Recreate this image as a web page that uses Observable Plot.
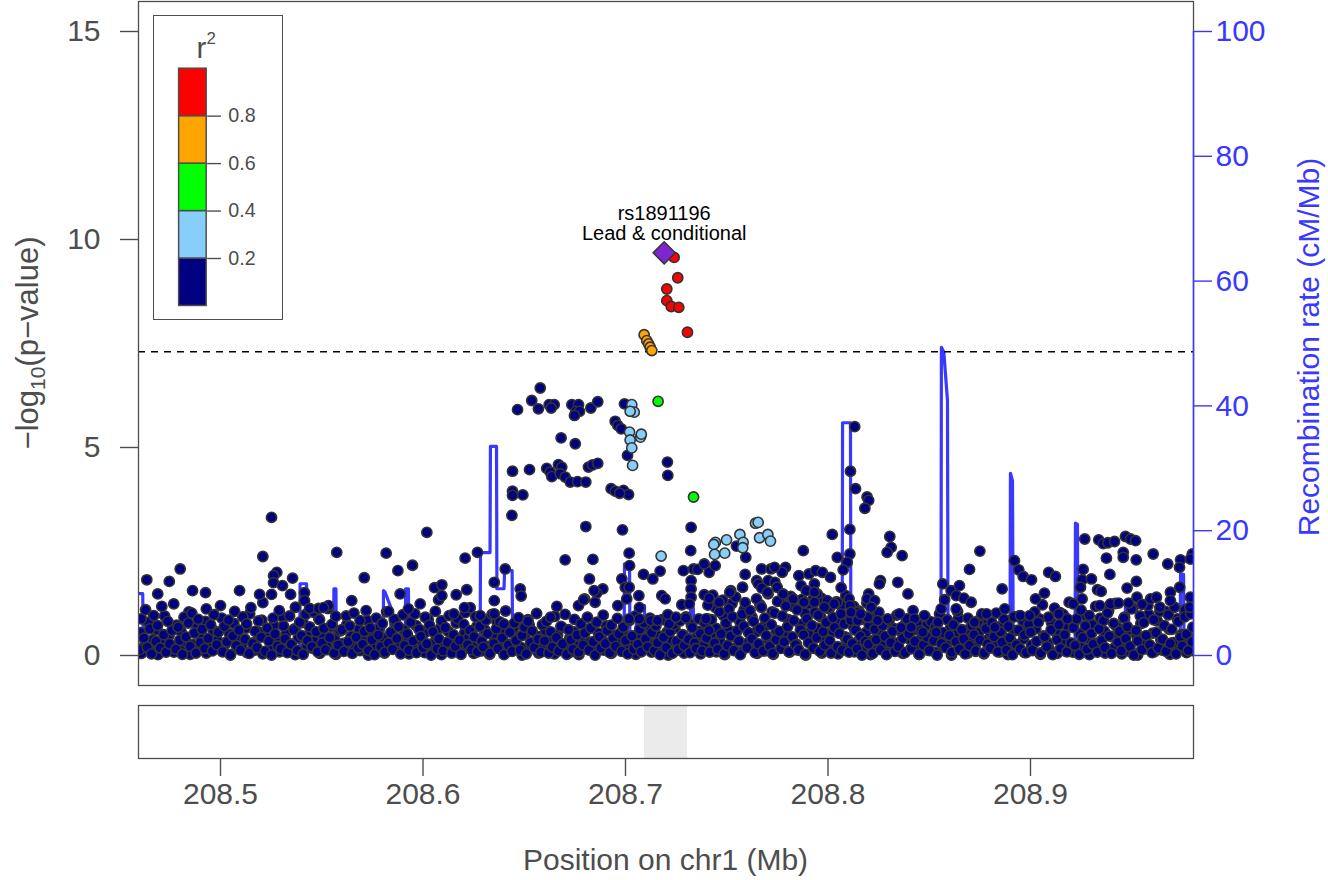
<!DOCTYPE html>
<html><head><meta charset="utf-8">
<script src="https://cdn.jsdelivr.net/npm/d3@7"></script>
<script src="https://cdn.jsdelivr.net/npm/@observablehq/plot@0.6"></script>
<style>
body{margin:0;background:#fff;font-family:"Liberation Sans",Arial,sans-serif;}
#wrap{position:relative;width:1328px;height:880px;overflow:hidden;}
#main{position:absolute;left:0;top:0;}
#genes{position:absolute;left:0;top:700px;}
#legend{position:absolute;left:153px;top:15px;}
#legend svg{border:1.5px solid #4d4d4d;box-sizing:border-box;background:#fff;}
</style></head><body>
<div id="wrap"><div id="main"></div><div id="genes"></div><div id="legend"></div></div>
<script>
// ---------- DATA ----------
const xDomain = [208.4595, 208.9805];          // Mb
const xTicks = [208.5, 208.6, 208.7, 208.8, 208.9];
const yTicks = [0, 5, 10, 15];
const recombTicks = [0, 20, 40, 60, 80, 100];
const sigLine = [7.3];                          // -log10(5e-8)
const chromosome = "chr1";

// lead SNP
const leadSnp = [[208.7191, 9.68]];
const leadName = "rs1891196";
const leadNote = "Lead & conditional";

// r2 > 0.8
const snpsRed = [208.7240,9.57, 208.7258,9.08, 208.7204,8.81, 208.7204,8.53, 208.7226,8.39, 208.7263,8.37, 208.7306,7.77];
// 0.6 - 0.8
const snpsOrange = [208.7092,7.71, 208.7105,7.57, 208.7114,7.49, 208.7122,7.41, 208.7130,7.33];
// 0.4 - 0.6
const snpsGreen = [208.7161,6.11, 208.7336,3.81];
// 0.2 - 0.4
const snpsLightBlue = [208.7031,6.03, 208.7043,5.85, 208.7023,5.87, 208.7020,5.37, 208.7074,5.25, 208.7078,5.32, 208.7023,5.18, 208.7031,4.99, 208.7035,4.57, 208.7176,2.39,
 208.7642,3.18, 208.7655,3.20, 208.7444,2.72, 208.7436,2.67, 208.7499,2.78, 208.7565,2.91, 208.7581,2.72, 208.7579,2.59, 208.7662,2.83, 208.7703,2.91, 208.7716,2.75, 208.7440,2.43, 208.7490,2.46];

// r2 < 0.2 : distinct points above the dense band
const scatterMid = [208.6579,6.43, 208.6537,6.13, 208.6467,5.91, 208.6570,5.93, 208.6623,6.03, 208.6648,6.03, 208.6633,5.95, 208.6735,6.03, 208.6768,6.03, 208.6755,5.87, 208.6773,5.87, 208.6748,5.77, 208.6829,5.95, 208.6863,6.10, 208.6995,6.05, 208.6949,5.63, 208.6962,5.53, 208.6979,5.45, 208.6682,5.23, 208.6752,5.09, 208.7010,4.81, 208.6442,4.43, 208.6526,4.47, 208.6611,4.50, 208.6628,4.41, 208.6636,4.30, 208.6669,4.59, 208.6685,4.53, 208.6678,4.37, 208.6702,4.29, 208.6727,4.17, 208.6763,4.18, 208.6804,4.17, 208.6817,4.53, 208.6837,4.58, 208.6863,4.62, 208.6929,4.01, 208.6949,3.95, 208.6990,3.97, 208.7015,3.87, 208.6971,3.90, 208.7207,4.65, 208.7209,4.33, 208.6442,3.95, 208.6442,3.85, 208.6493,3.86, 208.6439,3.37, 208.6804,3.10, 208.6985,3.02, 208.7324,3.08, 208.7322,2.52, 208.6702,2.30, 208.6839,2.31, 208.7018,2.46, 208.7020,2.16, 208.6406,2.08, 208.7089,1.95, 208.7135,1.84, 208.7171,2.03, 208.7286,2.04, 208.7336,2.08, 208.6822,1.84, 208.6982,1.84, 208.6480,1.60, 208.6485,1.43, 208.6888,1.60, 208.6858,1.50, 208.6850,1.28, 208.7006,1.36, 208.6999,1.64, 208.7066,1.44, 208.7179,1.44, 208.7196,1.36, 208.7324,1.80, 208.7324,1.60, 208.7324,1.40, 208.6798,1.36, 208.6768,1.20, 208.6661,1.18, 208.6962,1.20, 208.7069,1.15, 208.7278,1.22];
const scatterLeft = [208.4636,1.82, 208.4747,1.78, 208.4801,2.08, 208.4690,1.48, 208.4862,1.56, 208.4926,1.51, 208.5094,1.56, 208.5193,1.47, 208.5252,1.47, 208.5209,2.38, 208.5252,3.32, 208.5278,2.00, 208.5262,1.92, 208.5262,1.75, 208.5306,1.68, 208.5356,1.86, 208.5346,1.47, 208.5415,1.51, 208.5415,1.32, 208.5440,1.13, 208.5533,1.20, 208.5484,1.13, 208.5574,2.48, 208.5818,2.46, 208.6019,2.96, 208.5710,1.87, 208.5876,2.04, 208.5948,2.17, 208.6208,2.34, 208.6269,2.48, 208.5887,1.48, 208.6057,1.63, 208.6093,1.70, 208.6077,1.34, 208.6093,1.44, 208.6164,1.46, 208.6216,1.58, 208.5986,1.24, 208.5648,1.32, 208.6352,1.76, 208.6352,1.32, 208.6352,1.00, 208.6283,0.96, 208.6233,1.15, 208.6205,1.15, 208.5830,1.06, 208.5928,1.12, 208.6518,0.82, 208.6630,0.92, 208.6399,0.76, 208.6152,1.00, 208.5509,1.15];
const scatterRightA = [208.7356,2.07, 208.7389,2.20, 208.7413,2.00, 208.7443,2.16, 208.7594,2.36, 208.7672,2.08, 208.7718,2.08, 208.7591,1.95, 208.7018,1.64, 208.6845,1.56, 208.6793,1.34, 208.7389,1.46, 208.7413,1.38, 208.7520,1.56, 208.7578,1.64, 208.7315,1.24, 208.7462,1.28, 208.7648,1.80, 208.7656,1.72, 208.7705,1.80, 208.7738,1.76, 208.7673,1.62, 208.7701,1.52, 208.7018,0.88, 208.7068,0.88, 208.7125,0.84, 208.7158,0.84, 208.7216,0.76, 208.7249,0.92, 208.7298,0.90, 208.7397,0.88, 208.7413,0.60, 208.7548,2.63, 208.7878,2.52, 208.8021,2.91, 208.8046,2.36, 208.8132,5.50, 208.8111,4.43, 208.8136,4.01, 208.8108,3.03, 208.8108,2.44, 208.8095,2.24, 208.8075,2.06, 208.8065,1.63, 208.8193,3.81, 208.8201,3.73, 208.8182,3.54, 208.7790,2.12, 208.7774,2.00, 208.7856,1.92, 208.7906,1.96, 208.7939,2.04, 208.7972,2.00, 208.8012,1.88, 208.7515,1.52, 208.7749,1.64, 208.7881,1.28, 208.7947,1.48, 208.7996,1.32, 208.8046,1.28, 208.8201,1.48, 208.8193,1.36, 208.7867,1.68, 208.7933,1.72, 208.7892,1.56, 208.7933,1.52, 208.7736,2.12, 208.8104,1.36, 208.8109,1.20, 208.8259,1.80, 208.8254,1.72, 208.8345,1.76, 208.8395,1.48, 208.8230,1.32, 208.8213,1.16, 208.8567,1.72, 208.8608,1.56, 208.8649,1.68, 208.8633,1.44, 208.8671,1.38, 208.8707,1.28, 208.8699,2.07, 208.8559,1.12, 208.8633,1.12, 208.8760,1.00, 208.8723,0.80, 208.8146,1.04, 208.8146,0.84, 208.8196,0.92, 208.8245,0.84, 208.8295,0.88, 208.8352,1.00, 208.7778,1.48, 208.7828,1.36, 208.7933,1.28, 208.7982,1.16, 208.8031,1.24, 208.8114,1.04, 208.8427,0.88, 208.8476,0.96, 208.8542,0.80, 208.8411,0.68, 208.8468,0.56, 208.8534,0.56];
const scatterRightB = [208.8305,2.86, 208.8312,2.60, 208.8292,2.48, 208.8366,2.40, 208.8750,2.51, 208.8921,2.28, 208.8942,2.06, 208.8964,1.90, 208.9005,1.82, 208.8860,1.60, 208.8873,1.12, 208.9025,1.36, 208.8161,1.00, 208.8576,1.34, 208.9268,2.80, 208.9337,2.78, 208.9359,2.69, 208.9382,2.71, 208.9415,2.74, 208.9469,2.86, 208.9494,2.80, 208.9519,2.76, 208.9375,2.34, 208.9458,2.48, 208.9458,2.36, 208.9522,2.30, 208.9606,2.44, 208.9678,2.20, 208.9741,2.30, 208.9736,2.12, 208.9799,2.44, 208.9090,2.00, 208.9123,1.90, 208.9260,2.07, 208.9255,1.82, 208.9247,1.64, 208.9301,1.84, 208.9392,1.95, 208.9523,1.78, 208.9477,1.62, 208.9331,1.58, 208.9349,1.54, 208.9069,1.50, 208.9255,1.36, 208.9211,1.24, 208.9395,1.24, 208.9435,1.26, 208.9485,1.26, 208.9526,1.40, 208.9551,1.23, 208.9593,1.36, 208.9622,1.40, 208.9639,1.16, 208.9691,1.52, 208.9737,1.64, 208.9691,1.32, 208.9790,1.40, 208.9787,1.16, 208.9140,1.00, 208.9182,0.88, 208.9790,2.32, 208.8950,0.96, 208.8996,0.96, 208.8824,0.68, 208.8783,1.00, 208.9342,1.20];

// r2 < 0.2 : the dense band of weak associations (estimated)
const bandA = [208.4600,0.14, 208.4609,0.88, 208.4621,0.42, 208.4630,1.10, 208.4638,0.20, 208.4651,0.64, 208.4659,0.04, 208.4670,0.96, 208.4681,0.34, 208.4689,0.72,
 208.4702,0.18, 208.4710,1.18, 208.4719,0.50, 208.4731,0.08, 208.4740,0.82, 208.4748,0.28, 208.4761,0.60, 208.4769,1.24, 208.4780,0.15, 208.4791,0.68,
 208.4799,0.37, 208.4812,0.03, 208.4820,0.92, 208.4829,0.45, 208.4841,0.78, 208.4850,0.22, 208.4858,1.02, 208.4871,0.54, 208.4879,0.06, 208.4890,0.87,
 208.4901,0.31, 208.4909,0.63, 208.4922,0.17, 208.4930,1.12, 208.4939,0.41, 208.4951,0.74, 208.4960,0.11, 208.4968,0.98, 208.4981,0.26, 208.4989,0.56,
 208.5000,1.20, 208.5011,0.09, 208.5019,0.70, 208.5032,0.33, 208.5040,0.85, 208.5049,0.02, 208.5061,0.47, 208.5070,1.06, 208.5078,0.24, 208.5091,0.61,
 208.5099,0.13, 208.5110,0.93, 208.5121,0.39, 208.5129,0.76, 208.5142,0.05, 208.5150,1.15, 208.5159,0.29, 208.5171,0.58, 208.5180,0.19, 208.5188,0.83,
 208.5201,0.44, 208.5209,1.27, 208.5220,0.10, 208.5231,0.66, 208.5239,0.35, 208.5252,0.01, 208.5260,0.90, 208.5269,0.52, 208.5281,0.23, 208.5290,1.08,
 208.5298,0.16, 208.5311,0.71, 208.5319,0.40, 208.5330,0.07, 208.5341,0.95, 208.5349,0.27, 208.5362,0.62, 208.5370,1.16, 208.5379,0.12, 208.5391,0.80,
 208.5400,0.48, 208.5408,0.03, 208.5421,0.99, 208.5429,0.36, 208.5440,0.69, 208.5451,0.21, 208.5459,1.04, 208.5472,0.57, 208.5480,0.09, 208.5489,0.86,
 208.5501,0.30, 208.5510,0.65, 208.5518,0.14, 208.5531,1.13, 208.5539,0.43, 208.5550,0.75, 208.5561,0.06, 208.5569,0.94, 208.5582,0.25, 208.5590,0.59];
const bandB = [208.5600,0.62, 208.5609,0.10, 208.5621,0.95, 208.5630,0.33, 208.5638,0.71, 208.5651,0.05, 208.5659,1.02, 208.5670,0.44, 208.5681,0.18, 208.5689,0.84,
 208.5702,0.27, 208.5710,0.58, 208.5719,1.08, 208.5731,0.12, 208.5740,0.66, 208.5748,0.38, 208.5761,0.02, 208.5769,0.90, 208.5780,0.49, 208.5791,0.21,
 208.5799,0.77, 208.5812,0.08, 208.5820,1.05, 208.5829,0.30, 208.5841,0.55, 208.5850,0.15, 208.5858,0.87, 208.5871,0.41, 208.5879,0.69, 208.5890,0.04,
 208.5901,0.98, 208.5909,0.24, 208.5922,0.52, 208.5930,0.13, 208.5939,0.80, 208.5951,0.35, 208.5960,1.00, 208.5968,0.07, 208.5981,0.63, 208.5989,0.46,
 208.6000,0.19, 208.6011,0.92, 208.6019,0.28, 208.6032,0.73, 208.6040,0.01, 208.6049,0.57, 208.6061,1.06, 208.6070,0.16, 208.6078,0.40, 208.6091,0.83,
 208.6099,0.11, 208.6110,0.67, 208.6121,0.32, 208.6129,0.96, 208.6142,0.06, 208.6150,0.50, 208.6159,0.22, 208.6171,0.88, 208.6180,0.37, 208.6188,0.03,
 208.6201,0.75, 208.6209,1.03, 208.6220,0.26, 208.6231,0.60, 208.6239,0.14, 208.6252,0.45, 208.6260,0.93, 208.6269,0.09, 208.6281,0.70, 208.6290,0.34,
 208.6298,0.20, 208.6311,0.85, 208.6319,0.53, 208.6330,0.05, 208.6341,0.99, 208.6349,0.29, 208.6362,0.64, 208.6370,0.17, 208.6379,0.81, 208.6391,0.42,
 208.6400,0.02, 208.6408,1.07, 208.6421,0.25, 208.6429,0.56, 208.6440,0.10, 208.6451,0.78, 208.6459,0.36, 208.6472,0.91, 208.6480,0.13, 208.6489,0.48,
 208.6501,0.68, 208.6510,0.04, 208.6518,0.86, 208.6531,0.31, 208.6539,0.59, 208.6550,0.19, 208.6561,1.01, 208.6569,0.39, 208.6582,0.08, 208.6590,0.74];
const bandC = [208.6600,0.35, 208.6609,0.82, 208.6621,0.06, 208.6630,0.57, 208.6638,0.20, 208.6651,0.94, 208.6659,0.43, 208.6670,0.11, 208.6681,0.70, 208.6689,0.28,
 208.6702,0.99, 208.6710,0.03, 208.6719,0.62, 208.6731,0.38, 208.6740,0.15, 208.6748,0.87, 208.6761,0.49, 208.6769,0.08, 208.6780,0.76, 208.6791,0.25,
 208.6799,0.54, 208.6812,0.92, 208.6820,0.13, 208.6829,0.66, 208.6841,0.33, 208.6850,0.01, 208.6858,0.80, 208.6871,0.45, 208.6879,0.18, 208.6890,0.97,
 208.6901,0.29, 208.6909,0.60, 208.6922,0.07, 208.6930,0.73, 208.6939,0.41, 208.6951,0.22, 208.6960,0.89, 208.6968,0.52, 208.6981,0.10, 208.6989,0.68,
 208.7000,0.36, 208.7011,0.04, 208.7019,0.84, 208.7032,0.47, 208.7040,0.16, 208.7049,0.95, 208.7061,0.27, 208.7070,0.63, 208.7078,0.09, 208.7091,0.78,
 208.7099,0.40, 208.7110,0.21, 208.7121,0.90, 208.7129,0.55, 208.7142,0.12, 208.7150,0.71, 208.7159,0.31, 208.7171,0.02, 208.7180,0.86, 208.7188,0.44,
 208.7201,0.19, 208.7209,0.98, 208.7220,0.58, 208.7231,0.05, 208.7239,0.74, 208.7252,0.34, 208.7260,0.14, 208.7269,0.83, 208.7281,0.50, 208.7290,0.24,
 208.7298,0.93, 208.7311,0.39, 208.7319,0.07, 208.7330,0.67, 208.7341,0.30, 208.7349,0.17, 208.7362,0.88, 208.7370,0.53, 208.7379,0.11, 208.7391,0.79];
const bandD = [208.7400,0.42, 208.7407,1.21, 208.7416,0.08, 208.7424,0.86, 208.7431,1.45, 208.7440,0.30, 208.7448,0.65, 208.7455,0.15, 208.7464,1.05, 208.7472,0.52,
 208.7480,1.33, 208.7487,0.04, 208.7496,0.78, 208.7504,0.24, 208.7511,1.12, 208.7520,0.47, 208.7528,0.93, 208.7535,0.12, 208.7544,1.40, 208.7552,0.60,
 208.7560,0.35, 208.7567,0.02, 208.7576,0.99, 208.7584,0.70, 208.7591,1.27, 208.7600,0.19, 208.7608,0.55, 208.7615,1.08, 208.7624,0.40, 208.7632,0.82,
 208.7640,0.07, 208.7647,1.36, 208.7656,0.28, 208.7664,0.64, 208.7671,1.16, 208.7680,0.11, 208.7688,0.90, 208.7695,0.48, 208.7704,1.48, 208.7712,0.22,
 208.7720,0.74, 208.7727,0.05, 208.7736,1.02, 208.7744,0.38, 208.7751,1.30, 208.7760,0.58, 208.7768,0.17, 208.7775,0.95, 208.7784,0.33, 208.7792,1.19,
 208.7800,0.69, 208.7807,0.09, 208.7816,1.42, 208.7824,0.45, 208.7831,0.84, 208.7840,0.26, 208.7848,1.10, 208.7855,0.14, 208.7864,0.62, 208.7872,1.35,
 208.7880,0.50, 208.7887,0.03, 208.7896,0.88, 208.7904,0.31, 208.7911,1.24, 208.7920,0.72, 208.7928,0.18, 208.7935,1.04, 208.7944,0.43, 208.7952,0.97,
 208.7960,0.10, 208.7967,1.38, 208.7976,0.57, 208.7984,0.25, 208.7991,0.80, 208.8000,1.14, 208.8008,0.36, 208.8015,0.06, 208.8024,0.91, 208.8032,0.67,
 208.8040,1.29, 208.8047,0.21, 208.8056,0.53, 208.8064,1.00, 208.8071,0.13, 208.8080,0.76, 208.8088,1.44, 208.8095,0.39, 208.8104,0.08, 208.8112,0.85,
 208.8120,0.29, 208.8127,1.18, 208.8136,0.61, 208.8144,0.16, 208.8151,1.07, 208.8160,0.46, 208.8168,0.01, 208.8175,0.94, 208.8184,0.34, 208.8192,1.26];
const bandE = [208.8200,0.27, 208.8209,0.91, 208.8221,0.05, 208.8230,0.63, 208.8238,0.38, 208.8251,1.04, 208.8259,0.14, 208.8270,0.72, 208.8281,0.46, 208.8289,0.02,
 208.8302,0.85, 208.8310,0.31, 208.8319,0.58, 208.8331,0.10, 208.8340,0.97, 208.8348,0.22, 208.8361,0.67, 208.8369,0.41, 208.8380,0.07, 208.8391,0.88,
 208.8399,0.52, 208.8412,0.17, 208.8420,1.08, 208.8429,0.34, 208.8441,0.76, 208.8450,0.03, 208.8458,0.60, 208.8471,0.25, 208.8479,0.94, 208.8490,0.44,
 208.8501,0.12, 208.8509,0.81, 208.8522,0.36, 208.8530,0.69, 208.8539,0.01, 208.8551,1.00, 208.8560,0.29, 208.8568,0.55, 208.8581,0.19, 208.8589,0.86,
 208.8600,0.48, 208.8611,0.08, 208.8619,0.74, 208.8632,0.33, 208.8640,1.06, 208.8649,0.15, 208.8661,0.62, 208.8670,0.40, 208.8678,0.04, 208.8691,0.90,
 208.8699,0.24, 208.8710,0.71, 208.8721,0.50, 208.8729,0.11, 208.8742,0.83, 208.8750,0.37, 208.8759,0.96, 208.8771,0.06, 208.8780,0.65, 208.8788,0.28,
 208.8801,0.18, 208.8809,0.79, 208.8820,0.45, 208.8831,1.02, 208.8839,0.09, 208.8852,0.57, 208.8860,0.32, 208.8869,0.87, 208.8881,0.13, 208.8890,0.70,
 208.8898,0.42, 208.8911,0.02, 208.8919,0.93, 208.8930,0.26, 208.8941,0.61, 208.8949,0.16, 208.8962,0.84, 208.8970,0.49, 208.8979,0.07, 208.8991,0.75];
const bandF = [208.9000,0.56, 208.9009,0.13, 208.9021,1.05, 208.9030,0.34, 208.9038,0.80, 208.9051,0.06, 208.9059,1.22, 208.9070,0.45, 208.9081,0.21, 208.9089,0.92,
 208.9102,0.62, 208.9110,0.02, 208.9119,1.14, 208.9131,0.38, 208.9140,0.74, 208.9148,0.17, 208.9161,0.99, 208.9169,0.50, 208.9180,0.09, 208.9191,1.28,
 208.9199,0.30, 208.9212,0.67, 208.9220,0.24, 208.9229,0.88, 208.9241,0.03, 208.9250,1.09, 208.9258,0.43, 208.9271,0.71, 208.9279,0.15, 208.9290,0.96,
 208.9301,0.53, 208.9309,0.27, 208.9322,1.18, 208.9330,0.08, 208.9339,0.64, 208.9351,0.36, 208.9360,0.84, 208.9368,0.19, 208.9381,1.02, 208.9389,0.47,
 208.9400,0.05, 208.9411,0.77, 208.9419,1.25, 208.9432,0.32, 208.9440,0.58, 208.9449,0.11, 208.9461,0.90, 208.9470,0.41, 208.9478,0.69, 208.9491,0.22,
 208.9499,1.12, 208.9510,0.01, 208.9521,0.60, 208.9529,0.35, 208.9542,0.95, 208.9550,0.14, 208.9559,0.79, 208.9571,0.48, 208.9580,1.20, 208.9588,0.26,
 208.9601,0.07, 208.9609,0.86, 208.9620,0.55, 208.9631,0.18, 208.9639,1.06, 208.9652,0.39, 208.9660,0.72, 208.9669,0.10, 208.9681,0.98, 208.9690,0.29,
 208.9698,0.63, 208.9711,1.16, 208.9719,0.04, 208.9730,0.82, 208.9741,0.44, 208.9749,0.23, 208.9762,0.93, 208.9770,0.51, 208.9779,0.12, 208.9791,1.00,
 208.9798,0.33, 208.9802,0.68];
const bandLow = [208.4610,0.05, 208.4648,0.16, 208.4691,0.02, 208.4729,0.12, 208.4770,0.08, 208.4811,0.19, 208.4850,0.03, 208.4889,0.14, 208.4930,0.06, 208.4971,0.21,
 208.5010,0.10, 208.5049,0.01, 208.5090,0.17, 208.5131,0.07, 208.5170,0.13, 208.5209,0.04, 208.5250,0.20, 208.5291,0.09, 208.5330,0.15, 208.5369,0.02,
 208.5410,0.11, 208.5451,0.18, 208.5490,0.05, 208.5529,0.14, 208.5570,0.03, 208.5611,0.20, 208.5650,0.08, 208.5689,0.12, 208.5730,0.01, 208.5771,0.16,
 208.5810,0.06, 208.5849,0.19, 208.5890,0.10, 208.5931,0.04, 208.5970,0.13, 208.6009,0.07, 208.6050,0.21, 208.6091,0.02, 208.6130,0.15, 208.6169,0.09,
 208.6210,0.18, 208.6251,0.05, 208.6290,0.11, 208.6329,0.03, 208.6370,0.17, 208.6411,0.08, 208.6450,0.14, 208.6489,0.01, 208.6530,0.20, 208.6571,0.06,
 208.6610,0.12, 208.6649,0.04, 208.6690,0.16, 208.6731,0.09, 208.6770,0.02, 208.6809,0.19, 208.6850,0.07, 208.6891,0.13, 208.6930,0.05, 208.6969,0.17,
 208.7010,0.10, 208.7051,0.03, 208.7090,0.15, 208.7129,0.08, 208.7170,0.20, 208.7211,0.01, 208.7250,0.12, 208.7289,0.06, 208.7330,0.18, 208.7371,0.04,
 208.7410,0.14, 208.7449,0.09, 208.7490,0.02, 208.7531,0.16, 208.7570,0.07, 208.7609,0.21, 208.7650,0.05, 208.7691,0.11, 208.7730,0.03, 208.7769,0.19,
 208.7810,0.08, 208.7851,0.13, 208.7890,0.01, 208.7929,0.17, 208.7970,0.06, 208.8011,0.12, 208.8050,0.04, 208.8089,0.20, 208.8130,0.09, 208.8171,0.15,
 208.8210,0.02, 208.8249,0.18, 208.8290,0.07, 208.8331,0.11, 208.8370,0.05, 208.8409,0.16, 208.8450,0.03, 208.8491,0.13, 208.8530,0.08, 208.8569,0.21,
 208.8610,0.01, 208.8651,0.14, 208.8690,0.06, 208.8729,0.10, 208.8770,0.04, 208.8811,0.19, 208.8850,0.09, 208.8889,0.02, 208.8930,0.15, 208.8971,0.07,
 208.9010,0.12, 208.9049,0.03, 208.9090,0.18, 208.9131,0.05, 208.9170,0.11, 208.9209,0.08, 208.9250,0.20, 208.9291,0.02, 208.9330,0.14, 208.9369,0.06,
 208.9410,0.17, 208.9451,0.04, 208.9490,0.10, 208.9529,0.01, 208.9570,0.16, 208.9611,0.09, 208.9650,0.13, 208.9689,0.03, 208.9730,0.19, 208.9771,0.07, 208.9800,0.12];
const bandMid = [208.4605,0.55, 208.4626,0.25, 208.4644,0.80, 208.4667,0.38, 208.4685,0.62, 208.4706,0.30, 208.4724,0.95, 208.4745,0.47, 208.4766,0.21, 208.4784,0.73,
 208.4805,0.58, 208.4826,0.33, 208.4844,1.05, 208.4865,0.26, 208.4886,0.69, 208.4904,0.44, 208.4925,0.82, 208.4946,0.19, 208.4964,0.61, 208.4985,0.36,
 208.5006,0.90, 208.5024,0.28, 208.5045,0.52, 208.5066,0.77, 208.5084,0.40, 208.5105,0.23, 208.5126,0.66, 208.5144,1.00, 208.5165,0.31, 208.5186,0.57,
 208.5204,0.85, 208.5225,0.45, 208.5246,0.20, 208.5264,0.72, 208.5285,0.37, 208.5306,0.93, 208.5324,0.54, 208.5345,0.27, 208.5366,0.64, 208.5384,0.42,
 208.5405,0.79, 208.5426,0.24, 208.5444,0.59, 208.5465,0.35, 208.5486,0.88, 208.5504,0.48, 208.5525,0.22, 208.5546,0.70, 208.5564,0.39, 208.5585,0.60,
 208.5606,0.29, 208.5624,0.75, 208.5645,0.46, 208.5666,0.21, 208.5684,0.63, 208.5705,0.34, 208.5726,0.84, 208.5744,0.51, 208.5765,0.26, 208.5786,0.68,
 208.5804,0.41, 208.5825,0.19, 208.5846,0.56, 208.5864,0.80, 208.5885,0.32, 208.5906,0.61, 208.5924,0.44, 208.5945,0.23, 208.5966,0.72, 208.5984,0.37,
 208.6005,0.53, 208.6026,0.86, 208.6044,0.28, 208.6065,0.47, 208.6086,0.66, 208.6104,0.20, 208.6125,0.58, 208.6146,0.38, 208.6164,0.78, 208.6185,0.30,
 208.6206,0.55, 208.6224,0.43, 208.6245,0.25, 208.6266,0.70, 208.6284,0.36, 208.6305,0.62, 208.6326,0.22, 208.6344,0.49, 208.6365,0.81, 208.6386,0.33,
 208.6404,0.57, 208.6425,0.27, 208.6446,0.65, 208.6464,0.40, 208.6485,0.19, 208.6506,0.52, 208.6524,0.74, 208.6545,0.31, 208.6566,0.46, 208.6584,0.24,
 208.6605,0.60, 208.6626,0.35, 208.6644,0.21, 208.6665,0.50, 208.6686,0.68, 208.6704,0.28, 208.6725,0.42, 208.6746,0.57, 208.6764,0.23, 208.6785,0.45,
 208.6806,0.62, 208.6824,0.32, 208.6845,0.20, 208.6866,0.54, 208.6884,0.38, 208.6905,0.71, 208.6926,0.26, 208.6944,0.48, 208.6965,0.34, 208.6986,0.59,
 208.7004,0.22, 208.7025,0.44, 208.7046,0.30, 208.7064,0.52, 208.7085,0.25, 208.7106,0.40, 208.7124,0.63, 208.7145,0.29, 208.7166,0.47, 208.7184,0.21,
 208.7205,0.56, 208.7226,0.36, 208.7244,0.66, 208.7265,0.27, 208.7286,0.49, 208.7304,0.33, 208.7325,0.74, 208.7346,0.41, 208.7364,0.58, 208.7385,0.24,
 208.7406,0.88, 208.7424,0.52, 208.7445,1.15, 208.7466,0.35, 208.7484,0.96, 208.7505,0.63, 208.7526,1.25, 208.7544,0.44, 208.7565,0.82, 208.7586,1.10,
 208.7604,0.30, 208.7625,0.92, 208.7646,0.57, 208.7664,1.22, 208.7685,0.70, 208.7706,0.38, 208.7724,1.05, 208.7745,0.60, 208.7766,1.30, 208.7784,0.48,
 208.7805,0.86, 208.7826,1.18, 208.7844,0.27, 208.7865,0.75, 208.7886,1.02, 208.7904,0.54, 208.7925,1.34, 208.7946,0.66, 208.7964,0.93, 208.7985,0.40,
 208.8006,1.12, 208.8024,0.58, 208.8045,0.80, 208.8066,1.20, 208.8084,0.45, 208.8105,0.98, 208.8126,0.69, 208.8144,0.32, 208.8165,0.87, 208.8186,0.55,
 208.8204,0.73, 208.8225,0.36, 208.8246,0.60, 208.8264,0.24, 208.8285,0.81, 208.8306,0.47, 208.8324,0.65, 208.8345,0.30, 208.8366,0.56, 208.8384,0.78,
 208.8405,0.39, 208.8426,0.62, 208.8444,0.21, 208.8465,0.50, 208.8486,0.72, 208.8504,0.34, 208.8525,0.58, 208.8546,0.83, 208.8564,0.43, 208.8585,0.26,
 208.8606,0.67, 208.8624,0.49, 208.8645,0.90, 208.8666,0.31, 208.8684,0.61, 208.8705,0.42, 208.8726,0.22, 208.8744,0.55, 208.8765,0.76, 208.8786,0.37,
 208.8804,0.53, 208.8825,0.28, 208.8846,0.69, 208.8864,0.45, 208.8885,0.84, 208.8906,0.33, 208.8924,0.60, 208.8945,0.95, 208.8966,0.40, 208.8984,0.71,
 208.9005,0.25, 208.9026,0.64, 208.9044,0.88, 208.9065,0.47, 208.9086,0.30, 208.9104,0.79, 208.9125,0.56, 208.9146,1.03, 208.9164,0.36, 208.9185,0.68,
 208.9206,0.23, 208.9224,0.85, 208.9245,0.52, 208.9266,0.97, 208.9284,0.41, 208.9305,0.74, 208.9326,0.29, 208.9344,0.90, 208.9365,0.58, 208.9386,1.08,
 208.9404,0.45, 208.9425,0.70, 208.9446,0.33, 208.9464,0.92, 208.9485,0.61, 208.9506,1.14, 208.9524,0.49, 208.9545,0.77, 208.9566,0.27, 208.9584,0.99,
 208.9605,0.54, 208.9626,0.83, 208.9644,0.38, 208.9665,1.06, 208.9686,0.63, 208.9704,0.31, 208.9725,0.88, 208.9746,0.50, 208.9764,1.10, 208.9785,0.42];

// recombination rate (cM/Mb)
const recombPos = [208.4595,208.4616,208.4618,208.4700,208.4900,208.5100,208.5300,208.5391,208.5393,208.5425,208.5427,208.5558,208.5560,208.5570,208.5572,208.5700,208.5803,208.5805,208.5812,208.5840,208.5842,208.5912,208.5914,208.5928,208.5930,208.6100,208.6282,208.6284,208.6331,208.6333,208.6363,208.6365,208.6400,208.6403,208.6440,208.6443,208.6700,208.6993,208.6995,208.7020,208.7022,208.7052,208.7054,208.7094,208.7096,208.7319,208.7321,208.7335,208.7337,208.7600,208.7800,208.8070,208.8072,208.8111,208.8113,208.8300,208.8558,208.8560,208.8572,208.8590,208.8593,208.8750,208.8899,208.8901,208.8911,208.8915,208.9100,208.9220,208.9222,208.9232,208.9234,208.9467,208.9469,208.9484,208.9486,208.9739,208.9741,208.9756,208.9758,208.9805];
const recombRate = [9.9,9.9,1.2,0.8,1.5,0.6,1.1,1.0,11.5,11.5,0.7,0.9,10.7,10.7,0.6,1.2,1.0,10.4,10.2,7.8,1.5,1.2,10.7,10.7,0.8,0.5,0.6,16.5,16.5,33.5,33.5,10.7,10.7,13.6,13.6,0.5,0.3,0.5,14.7,14.7,1.0,1.0,8.0,8.0,0.6,0.6,7.7,7.7,0.9,1.5,0.8,0.6,37.3,37.3,0.4,0.8,0.5,49.4,48.6,40.9,0.5,1.0,0.8,29.2,28.0,0.6,1.2,0.7,21.2,21.0,0.8,0.8,8.3,8.3,1.0,1.0,13.1,13.0,1.2,1.2];

// region highlighted in the lower track
const regionStart = [208.7094];
const regionEnd = [208.7306];

// r2 legend
const r2Lower = [0, 0.2, 0.4, 0.6, 0.8];
const r2Upper = [0.2, 0.4, 0.6, 0.8, 1.0];
const r2Colors = ["#000080", "#87CEFA", "#00FF00", "#FFA500", "#FF0000"];
const r2Ticks = [0.2, 0.4, 0.6, 0.8];
const leadColor = "#7D26CD";

// ---------- BUILD ----------
const pairs = a => d3.range(0, a.length, 2).map(i => [a[i], a[i + 1]]);
const navy = [...pairs(bandLow), ...pairs(bandMid), ...pairs(bandA), ...pairs(bandB), ...pairs(bandC), ...pairs(bandD), ...pairs(bandE), ...pairs(bandF),
              ...pairs(scatterLeft), ...pairs(scatterMid), ...pairs(scatterRightA), ...pairs(scatterRightB)];
const RSCALE = 15 / 100; // 100 cM/Mb drawn at -log10 p = 15
const recomb = recombPos.map((p, i) => ({pos: p, rate: recombRate[i]}));
const FONT = "Liberation Sans, Arial, Helvetica, sans-serif";
const GREY = "#4d4d4d";
const BLUE = "#3838ff";
const dotOpts = (fill) => ({x: d => d[0], y: d => d[1], r: 5.1, fill, stroke: "#333333", strokeWidth: 1.6, clip: true});

const mainSvg = Plot.plot({
  width: 1328, height: 686,
  marginLeft: 138, marginRight: 135, marginTop: 1, marginBottom: 1,
  x: {domain: xDomain, axis: null},
  y: {domain: [-0.7212, 15.7212], axis: null},
  style: {fontFamily: FONT, background: "white", overflow: "visible"},
  marks: [
    Plot.lineY(recomb, {x: "pos", y: d => d.rate * RSCALE, stroke: BLUE, strokeWidth: 3.2, clip: true}),
    Plot.ruleY(sigLine, {stroke: "black", strokeWidth: 1.5, strokeDasharray: "7,6"}),
    Plot.dot(navy, dotOpts(r2Colors[0])),
    Plot.dot(pairs(snpsLightBlue), dotOpts(r2Colors[1])),
    Plot.dot(pairs(snpsGreen), dotOpts(r2Colors[2])),
    Plot.dot(pairs(snpsOrange), dotOpts(r2Colors[3])),
    Plot.dot(pairs(snpsRed), dotOpts(r2Colors[4])),
    Plot.dot(leadSnp, {x: d => d[0], y: d => d[1], symbol: "diamond2", r: 10, fill: leadColor, stroke: "#333333", strokeWidth: 1.4}),
    Plot.text(leadSnp, {x: d => d[0], y: d => d[1], text: () => leadName, lineAnchor: "bottom", dy: -33, fontSize: 20, fill: "black"}),
    Plot.text(leadSnp, {x: d => d[0], y: d => d[1], text: () => leadNote, lineAnchor: "bottom", dy: -13, fontSize: 20, fill: "black"}),
    Plot.frame({stroke: GREY, strokeWidth: 1.3}),
    Plot.ruleX([xDomain[1]], {y1: recombTicks[0] * RSCALE, y2: recombTicks[recombTicks.length - 1] * RSCALE, stroke: BLUE, strokeWidth: 1.5}),
    Plot.axisY({anchor: "left", ticks: yTicks, tickSize: 18, tickPadding: 20, fontSize: 30, color: GREY, strokeWidth: 1.4, label: null}),
    Plot.axisY({anchor: "right", ticks: recombTicks.map(v => v * RSCALE), tickFormat: d => String(Math.round(d / RSCALE)),
                tickSize: 18, tickPadding: 4, fontSize: 30, color: BLUE, strokeWidth: 1.4, label: null})
  ]
});
document.getElementById("main").appendChild(mainSvg);

// axis titles of the main panel
const ms = d3.select(mainSvg);
const yl = ms.append("text").attr("transform", "translate(38,343) rotate(-90)").attr("text-anchor", "middle")
  .attr("font-size", 31).attr("fill", GREY).attr("font-family", FONT);
yl.append("tspan").text("\u2212log");
yl.append("tspan").attr("font-size", 21).attr("dy", 7).text("10");
yl.append("tspan").attr("dy", -7).text("(p\u2212value)");
ms.append("text").attr("transform", "translate(1319,347) rotate(-90)").attr("text-anchor", "middle")
  .attr("font-size", 30).attr("fill", BLUE).attr("font-family", FONT).text("Recombination rate (cM/Mb)");

// lower track + x axis
const genesSvg = Plot.plot({
  width: 1328, height: 180,
  marginLeft: 138, marginRight: 135, marginTop: 5, marginBottom: 122,
  x: {domain: xDomain, axis: null},
  y: {domain: [0, 1], axis: null},
  style: {fontFamily: FONT, background: "transparent", overflow: "visible"},
  marks: [
    Plot.rect(regionStart.map((s, i) => ({s, e: regionEnd[i]})), {x1: "s", x2: "e", y1: () => 0, y2: () => 1, fill: "#ebebeb"}),
    Plot.frame({stroke: GREY, strokeWidth: 1.3}),
    Plot.axisX({anchor: "bottom", ticks: xTicks, tickFormat: d => d.toFixed(1), tickSize: 18, tickPadding: 6, fontSize: 30, color: GREY, strokeWidth: 1.4, label: null})
  ]
});
document.getElementById("genes").appendChild(genesSvg);
d3.select(genesSvg).append("text").attr("x", 665.5).attr("y", 170).attr("text-anchor", "middle")
  .attr("font-size", 30).attr("fill", GREY).attr("font-family", FONT).text(`Position on ${chromosome} (Mb)`);

// r2 legend
const bins = r2Lower.map((lo, i) => ({lo, hi: r2Upper[i], color: r2Colors[i]}));
const legendSvg = Plot.plot({
  width: 130, height: 308,
  marginLeft: 25, marginRight: 77, marginTop: 53, marginBottom: 14,
  x: {domain: [0, 1], axis: null},
  y: {domain: [0, 1], axis: null},
  color: {type: "identity"},
  style: {fontFamily: FONT, background: "white", overflow: "visible"},
  marks: [
    Plot.rect(bins, {x1: () => 0, x2: () => 1, y1: "lo", y2: "hi", fill: "color", stroke: GREY, strokeWidth: 1.5}),
    Plot.axisY({anchor: "right", ticks: r2Ticks, tickSize: 14, tickPadding: 8, fontSize: 20, color: GREY, strokeWidth: 1.4, label: null})
  ]
});
document.getElementById("legend").appendChild(legendSvg);
const lt = d3.select(legendSvg).append("text").attr("x", 53).attr("y", 43).attr("font-size", 30)
  .attr("fill", GREY).attr("font-family", FONT);
lt.append("tspan").text("r");
lt.append("tspan").attr("font-size", 17).attr("dy", -15).text("2");
</script></body></html>
